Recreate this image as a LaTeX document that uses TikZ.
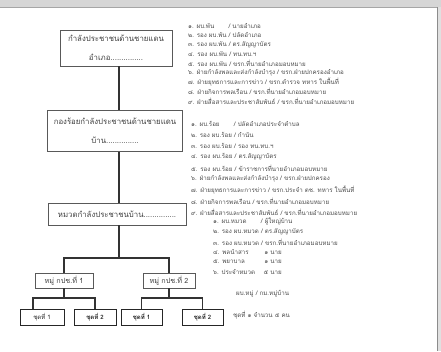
\documentclass[tikz,border=0pt]{standalone}
\usepackage{fontspec}
\newfontfamily\thai[Script=Thai]{Loma}
\begin{document}
\begin{tikzpicture}[x=1pt,y=-1pt,
 box/.style={draw=black!65, line width=0.7pt, inner sep=0pt, align=center, font=\thai\fontsize{7.8}{19}\selectfont, text=black!75},
 smallbox/.style={draw=black!65, line width=0.7pt, inner sep=0pt, font=\thai\fontsize{7.2}{8}\selectfont, text=black!75},
 setbox/.style={draw=black!85, line width=1pt, inner sep=0pt, font=\thai\fontsize{6}{7}\selectfont, text=black!85},
 item/.style={anchor=west, inner sep=0pt, font=\thai\fontsize{6.2}{7}\selectfont, text=black!70},
 conn/.style={draw=black!80, line width=1.1pt}]
\useasboundingbox (0,0) rectangle (441,351);
\fill[white] (0,0) rectangle (441,351);
\fill[black!16] (0,0) rectangle (441,7);
\draw[black!35, line width=0.8pt] (0,7) -- (441,7);
\fill[black!12] (437,7) rectangle (441,351);
\draw[black!45, line width=0.8pt] (437,7) -- (437,351);

\node[box, minimum width=112pt, minimum height=36pt] (b1) at (116,48) {กำลังประชาชนด้านชายแดน\\อำเภอ...............};
\node[box, minimum width=135pt, minimum height=41pt] (b2) at (115,131) {กองร้อยกำลังประชาชนด้านชายแดน\\บ้าน...............};
\node[box, minimum width=138pt, minimum height=22pt] (b3) at (117,214) {หมวดกำลังประชาชนบ้าน...............};

\coordinate (vx) at (119,0);
\draw[conn] (b1.south -| vx) -- (b2.north -| vx);
\draw[conn] (b2.south -| vx) -- (b3.north -| vx);
\coordinate (j0) at (119,258);
\draw[conn] (b3.south -| vx) -- (j0);

\node[smallbox, minimum width=58pt, minimum height=15pt] (g1) at (64,280.5) {หมู่ กปช.ที่ 1};
\node[smallbox, minimum width=52pt, minimum height=15pt] (g2) at (169,280.5) {หมู่ กปช.ที่ 2};
\draw[conn] (g1.north) |- (j0) -| (g2.north);

\node[setbox, minimum width=44pt, minimum height=16pt] (c1) at (42,317) {ชุดที่ 1};
\node[setbox, minimum width=42pt, minimum height=16pt] (c2) at (95,317) {\bfseries ชุดที่ 2};
\node[setbox, minimum width=41pt, minimum height=16pt] (c3) at (141.5,317) {\bfseries ชุดที่ 1};
\node[setbox, minimum width=41pt, minimum height=16pt] (c4) at (202.5,317) {\bfseries ชุดที่ 2};
\coordinate (j1) at (64,298);
\coordinate (j2) at (169,298);
\draw[conn] (g1.south) -- (j1);
\draw[conn] ([xshift=-9pt]c1.north) |- (j1) -| (c2.north);
\draw[conn] (g2.south) -- (j2);
\draw[conn] (c3.north) |- (j2) -| (c4.north);

\foreach \t [count=\i] in {
 ๑. ผบ.พัน\hphantom{รอง } / นายอำเภอ,
 ๒. รอง ผบ.พัน / ปลัดอำเภอ,
 ๓. รอง ผบ.พัน / ตร.สัญญาบัตร,
 ๔. รอง ผบ.พัน / ทน.ทบ.ฯ,
 ๕. รอง ผบ.พัน / ขรก.ที่นายอำเภอมอบหมาย,
 ๖. ฝ่ายกำลังพลและส่งกำลังบำรุง / ขรก.ฝ่ายปกครองอำเภอ,
 ๗. ฝ่ายยุทธการและการข่าว / ขรก.ตำรวจ ทหาร ในพื้นที่,
 ๘. ฝ่ายกิจการพลเรือน / ขรก.ที่นายอำเภอมอบหมาย,
 ๙. ฝ่ายสื่อสารและประชาสัมพันธ์ / ขรก.ที่นายอำเภอมอบหมาย}
 \node[item] (la\i) at (188,{26+9.4*(\i-1)}) {\t};

\foreach \t [count=\i] in {
 ๑. ผบ.ร้อย\hphantom{รอง } / ปลัดอำเภอประจำตำบล,
 ๒. รอง ผบ.ร้อย / กำนัน,
 ๓. รอง ผบ.ร้อย / รอง ทน.ทบ.ฯ,
 ๔. รอง ผบ.ร้อย / ตร.สัญญาบัตร,
 ๕. รอง ผบ.ร้อย / ข้าราชการที่นายอำเภอมอบหมาย,
 ๖. ฝ่ายกำลังพลและส่งกำลังบำรุง / ขรก.ฝ่ายปกครอง,
 ๗. ฝ่ายยุทธการและการข่าว / ขรก.ประจำ ตช. ทหาร ในพื้นที่,
 ๘. ฝ่ายกิจการพลเรือน / ขรก.ที่นายอำเภอมอบหมาย,
 ๙. ฝ่ายสื่อสารและประชาสัมพันธ์ / ขรก.ที่นายอำเภอมอบหมาย}
 \node[item] (lb\i) at (191,{124+11*(\i-1)}) {\t};

\foreach \t [count=\i] in {
 ๑. ผบ.หมวด\hphantom{รอง } / ผู้ใหญ่บ้าน,
 ๒. รอง ผบ.หมวด / ตร.สัญญาบัตร,
 ๓. รอง ผบ.หมวด / ขรก.ที่นายอำเภอมอบหมาย,
 ๔. \makebox[42pt][l]{พลนำสาร}๑ นาย,
 ๕. \makebox[42pt][l]{พยาบาล}๑ นาย,
 ๖. \makebox[42pt][l]{ประจำหมวด}๕ นาย}
 \node[item] (lc\i) at (213,{222+10*(\i-1)}) {\t};

\node[item] (lead) at (236,294) {ผบ.หมู่ / กม.หมู่บ้าน};
\node[item] (size) at (233,315) {ชุดที่ ๑ จำนวน ๕ คน};
\end{tikzpicture}
\end{document}
